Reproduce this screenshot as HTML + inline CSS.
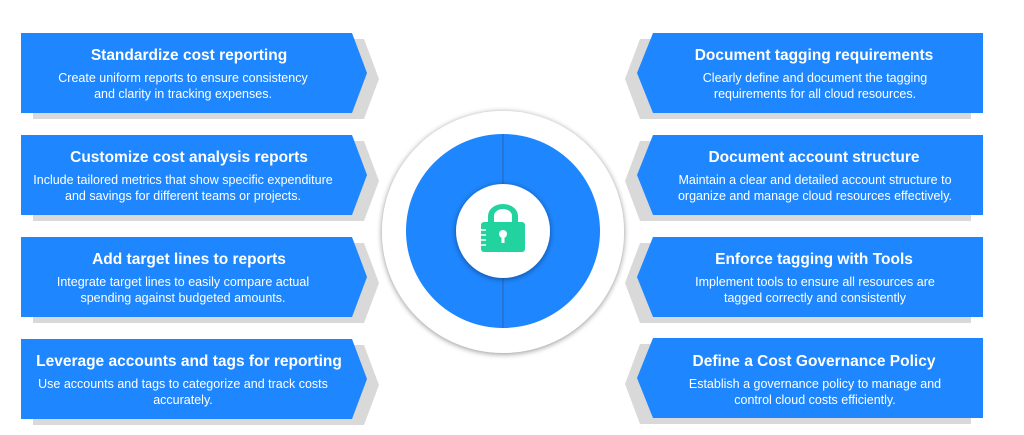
<!DOCTYPE html>
<html><head><style>body{margin:0;background:#fff}svg{display:block}</style></head><body>
<svg width="1024" height="435" viewBox="0 0 1024 435" xmlns="http://www.w3.org/2000/svg" font-family="Liberation Sans, Arial, sans-serif">
<defs>
<filter id="sh" x="-20%" y="-20%" width="140%" height="140%"><feGaussianBlur in="SourceAlpha" stdDeviation="3"/><feOffset dx="0" dy="1"/><feComponentTransfer><feFuncA type="linear" slope="0.45"/></feComponentTransfer><feMerge><feMergeNode/><feMergeNode in="SourceGraphic"/></feMerge></filter>
</defs>
<g id="L">
<g transform="translate(0,33)">
<polygon points="33,6 364,6 379,46 364,86 33,86" fill="#d9d9d9"/>
<polygon points="21,0 352,0 367,40 352,80 21,80" fill="#1e86ff"/>
</g>
<g transform="translate(0,135)">
<polygon points="33,6 364,6 379,46 364,86 33,86" fill="#d9d9d9"/>
<polygon points="21,0 352,0 367,40 352,80 21,80" fill="#1e86ff"/>
</g>
<g transform="translate(0,237)">
<polygon points="33,6 364,6 379,46 364,86 33,86" fill="#d9d9d9"/>
<polygon points="21,0 352,0 367,40 352,80 21,80" fill="#1e86ff"/>
</g>
<g transform="translate(0,339)">
<polygon points="33,6 364,6 379,46 364,86 33,86" fill="#d9d9d9"/>
<polygon points="21,0 352,0 367,40 352,80 21,80" fill="#1e86ff"/>
</g>
</g>
<g>
<g transform="translate(0,33)">
<polygon points="971,6 640,6 625,46 640,86 971,86" fill="#d9d9d9"/>
<polygon points="983,0 653,0 637,40 653,80 983,80" fill="#1e86ff"/>
</g>
<g transform="translate(0,135)">
<polygon points="971,6 640,6 625,46 640,86 971,86" fill="#d9d9d9"/>
<polygon points="983,0 653,0 637,40 653,80 983,80" fill="#1e86ff"/>
</g>
<g transform="translate(0,237)">
<polygon points="971,6 640,6 625,46 640,86 971,86" fill="#d9d9d9"/>
<polygon points="983,0 653,0 637,40 653,80 983,80" fill="#1e86ff"/>
</g>
<g transform="translate(0,338)">
<polygon points="971,6 640,6 625,46 640,86 971,86" fill="#d9d9d9"/>
<polygon points="983,0 653,0 637,40 653,80 983,80" fill="#1e86ff"/>
</g>
</g>
<g fill="#fff" text-anchor="middle">
<g font-size="15.5" font-weight="bold">
<text x="189" y="60">Standardize cost reporting</text>
<text x="189" y="162">Customize cost analysis reports</text>
<text x="189" y="264">Add target lines to reports</text>
<text x="189" y="366">Leverage accounts and tags for reporting</text>
<text x="814" y="60">Document tagging requirements</text>
<text x="814" y="162">Document account structure</text>
<text x="814" y="264">Enforce tagging with Tools</text>
<text x="814" y="366">Define a Cost Governance Policy</text>
</g>
<g font-size="12.5">
<text x="183" y="82">Create uniform reports to ensure consistency</text>
<text x="183" y="98">and clarity in tracking expenses.</text>
<text x="183" y="184">Include tailored metrics that show specific expenditure</text>
<text x="183" y="200">and savings for different teams or projects.</text>
<text x="183" y="286">Integrate target lines to easily compare actual</text>
<text x="183" y="302">spending against budgeted amounts.</text>
<text x="183" y="388">Use accounts and tags to categorize and track costs</text>
<text x="183" y="404">accurately.</text>
<text x="815" y="82">Clearly define and document the tagging</text>
<text x="815" y="98">requirements for all cloud resources.</text>
<text x="815" y="184">Maintain a clear and detailed account structure to</text>
<text x="815" y="200">organize and manage cloud resources effectively.</text>
<text x="815" y="286">Implement tools to ensure all resources are</text>
<text x="815" y="302">tagged correctly and consistently</text>
<text x="815" y="388">Establish a governance policy to manage and</text>
<text x="815" y="404">control cloud costs efficiently.</text>
</g>
</g>
<circle cx="503" cy="232" r="121" fill="#fff" filter="url(#sh)"/>
<circle cx="503" cy="231" r="97" fill="#1e86ff"/>
<line x1="503" y1="134" x2="503" y2="328" stroke="#2a6fc9" stroke-width="1.5"/>
<circle cx="503" cy="231" r="47" fill="#fff" filter="url(#sh)"/>
<g fill="#22d3a0">
<path d="M488,222 v-6 a15,12 0 0 1 30,0 v6 h-6 v-6 a9,7 0 0 0 -18,0 v6 z"/>
<rect x="481" y="222" width="44" height="30" rx="3"/>
</g>
<circle cx="503" cy="234" r="4" fill="#fff"/>
<rect x="501.5" y="235" width="3" height="8" fill="#fff"/>
<g stroke="#fff" stroke-width="1.5"><line x1="481" y1="230" x2="486" y2="230"/><line x1="481" y1="235" x2="486" y2="235"/><line x1="481" y1="240" x2="486" y2="240"/><line x1="481" y1="245" x2="486" y2="245"/></g>
</svg>
</body></html>
